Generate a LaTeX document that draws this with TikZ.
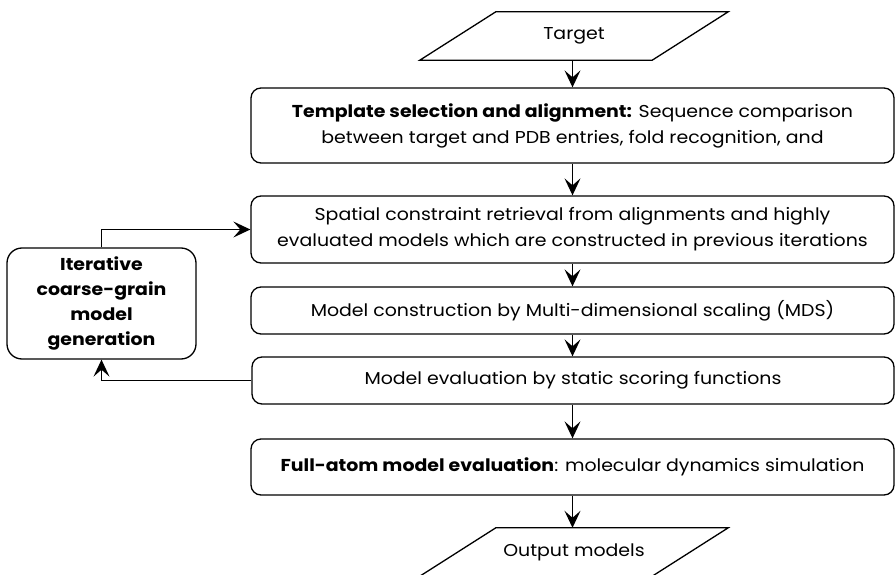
\documentclass[tikz,border=0pt]{standalone}
\usepackage{fontspec}
\setmainfont{Poppins}[FakeStretch=1.1]
\usetikzlibrary{arrows.meta,calc}
\begin{document}
\begin{tikzpicture}[x=1pt,y=-1pt,
  every node/.style={font=\fontsize{17.2}{26}\selectfont},
  flowbox/.style={draw,line width=1.3pt,rounded corners=10pt,inner sep=0pt,align=center},
  iobox/.style={inner sep=0pt,minimum width=232pt,minimum height=48pt},
  arr/.style={line width=1.2pt,-{Stealth[length=17pt,width=16pt,inset=7pt]}}]
\useasboundingbox (0,0) rectangle (896,575);
\node[iobox] (target) at (574,36) {Target};
\draw[line width=1.3pt] ($(target.south west)+(-38,0)$) -- ($(target.south east)+(-38,0)$)
  -- ($(target.north east)+(38,0)$) -- ($(target.north west)+(38,0)$) -- cycle;
\node[flowbox,minimum width=643pt,minimum height=75pt] (tmpl) at (572.5,125.5)
  {\textbf{Template selection and alignment:} Sequence comparison\\between target and PDB entries, fold recognition, and};
\node[flowbox,minimum width=643pt,minimum height=67pt] (spatial) at (572.5,229.5)
  {Spatial constraint retrieval from alignments and highly\\evaluated models which are constructed in previous iterations};
\node[flowbox,minimum width=643pt,minimum height=47pt] (mds) at (572.5,310.5)
  {Model construction by Multi-dimensional scaling (MDS)};
\node[flowbox,minimum width=642pt,minimum height=47pt] (eval) at (573,380.5)
  {Model evaluation by static scoring functions};
\node[flowbox,minimum width=643pt,minimum height=56pt] (full) at (572.5,467)
  {\textbf{Full-atom model evaluation}: molecular dynamics simulation};
\node[iobox] (out) at (574,552) {Output models};
\draw[line width=1.3pt] ($(out.south west)+(-38,0)$) -- ($(out.south east)+(-38,0)$)
  -- ($(out.north east)+(38,0)$) -- ($(out.north west)+(38,0)$) -- cycle;
\node[flowbox,rounded corners=15pt,minimum width=189pt,minimum height=111pt,font=\bfseries\fontsize{17.2}{25}\selectfont] (gen) at (101.5,303.5)
  {Iterative\\coarse-grain\\model\\generation};
\draw[arr] (target.south -| tmpl.north) -- (tmpl.north);
\draw[arr] (tmpl) -- (spatial);
\draw[arr] (spatial) -- (mds);
\draw[arr] (mds.south) -- (mds.south |- eval.north);
\draw[arr] (eval.south -| tmpl.south) -- (full.north -| tmpl.south);
\draw[arr] (full.south -| tmpl.south) -- (out.north -| tmpl.south);
\draw[arr] (gen.north) |- (spatial.west);
\draw[arr] (eval.west) -| (gen.south);
\end{tikzpicture}
\end{document}
